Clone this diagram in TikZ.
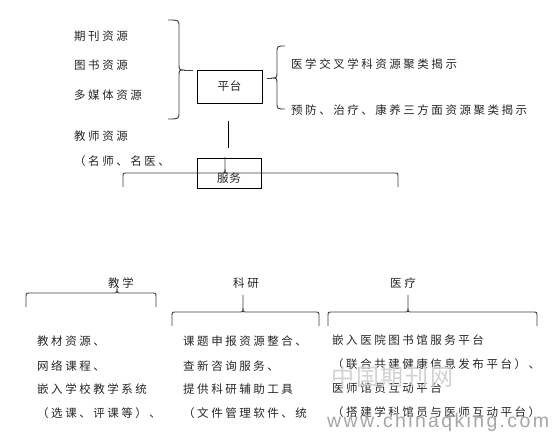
\documentclass[tikz,border=0pt]{standalone}
\usepackage{fontspec}
\newfontfamily\cjk{Noto Sans CJK SC}[LetterSpace=22]
\newfontfamily\cjkbox{Noto Sans CJK SC}[LetterSpace=8]
\newfontfamily\wmfont{Liberation Sans}[LetterSpace=12]
\newcommand\hbrc[6]{%
  \draw[br] (#1,#4) -- (#1,#5+4) .. controls (#1,#5) .. (#1+5,#5) -- (#2-4,#5)
    .. controls (#2,#5) .. (#2,#5-4) -- (#2,#6);
  \draw[br] (#2,#5-4) .. controls (#2,#5) .. (#2+4,#5) -- (#3-5,#5)
    .. controls (#3,#5) .. (#3,#5+4) -- (#3,#4);}
\begin{document}
\begin{tikzpicture}[x=1pt,y=-1pt,
  br/.style={draw=black!75, line width=0.9pt},
  txt/.style={anchor=west, inner sep=0pt, text=black!85, font=\cjk\fontsize{11.5}{12}\selectfont},
  lbl/.style={inner sep=0pt, text=black!85, font=\cjk\fontsize{11.5}{12}\selectfont},
  boxn/.style={draw=black, line width=0.9pt, inner sep=0pt, text=black!85, font=\cjkbox\fontsize{11.5}{12}\selectfont}]
\useasboundingbox[fill=white] (0,0) rectangle (558,435);

% left resources
\node[txt] (t1) at (74,36) {期刊资源};
\node[txt] (t2) at (74,65) {图书资源};
\node[txt] (t3) at (74,95) {多媒体资源};
\node[txt] (t4) at (74,136) {教师资源};
\node[txt] (t5) at (74,161) {（名师、名医、};

% boxes
\node[boxn, minimum width=65pt, minimum height=33pt] (pt) at (229.5,86.5) {平台};
\node[boxn, minimum width=64pt, minimum height=30pt] (fw) at (229,173) {};
\node[lbl, font=\cjkbox\fontsize{11.5}{12}\selectfont] (fwt) at (229,178) {服务};

% right brace to platform
\coordinate (b1tip) at (193,70);
\draw[br] (168,20) .. controls (179,20) .. (179,27) -- (179,64)
  .. controls (179,70) .. (185,70) .. controls (179,70) .. (179,76) -- (179,112)
  .. controls (179,119) .. (168,119);
\draw[br] (184,70) -- (b1tip);

% left brace from platform
\coordinate (b2tip) at (267,78);
\draw[br] (285,46) .. controls (277,46) .. (277,53) -- (277,72)
  .. controls (277,78) .. (271,78) .. controls (277,78) .. (277,84) -- (277,102)
  .. controls (277,109) .. (285,109);
\draw[br] (272,78) -- (b2tip);
\node[txt] (r1) at (291,64) {医学交叉学科资源聚类揭示};
\node[txt] (r2) at (291,110) {预防、治疗、康养三方面资源聚类揭示};

% vertical line from platform
\coordinate (v1) at (228,121);
\coordinate (v2) at (228,148);
\draw[black, line width=0.9pt] (v1) -- (v2);

% service brace
\hbrc{123}{225}{398}{187}{173}{157}

% bottom braces
\hbrc{26}{117}{156}{307}{293}{285}
\hbrc{172}{243}{319}{326}{312}{295}
\hbrc{328}{408}{537}{326}{312}{295}
\node[lbl] (jx) at (121,283) {教学};
\node[lbl] (ky) at (246,283) {科研};
\node[lbl] (yl) at (403,283) {医疗};

% teaching
\node[txt] (a1) at (37,341) {教材资源、};
\node[txt] (a2) at (37,366) {网络课程、};
\node[txt] (a3) at (37,389) {嵌入学校教学系统};
\node[txt] (a4) at (37,413) {（选课、评课等）、};

% research
\node[txt] (k1) at (183,341) {课题申报资源整合、};
\node[txt] (k2) at (183,366) {查新咨询服务、};
\node[txt] (k3) at (183,389) {提供科研辅助工具};
\node[txt] (k4) at (183,413) {（文件管理软件、统};

% medical
\node[txt] (m1) at (332,340) {嵌入医院图书馆服务平台};
\node[txt] (m2) at (332,364) {（联合共建健康信息发布平台）、};
\node[txt] (m3) at (332,388) {医师馆员互动平台};
\node[txt] (m4) at (332,412) {（搭建学科馆员与医师互动平台）};

% watermark
\node[anchor=west, inner sep=0pt, text=gray!35, font=\cjkbox\fontsize{23}{24}\selectfont] (wm1) at (331,377) {中国期刊网};
\node[anchor=base west, inner sep=0pt, text=gray!70, font=\wmfont\fontsize{19.5}{22}\selectfont] (wm2) at (327,428) {www.chinaqking.com};
\end{tikzpicture}
\end{document}
